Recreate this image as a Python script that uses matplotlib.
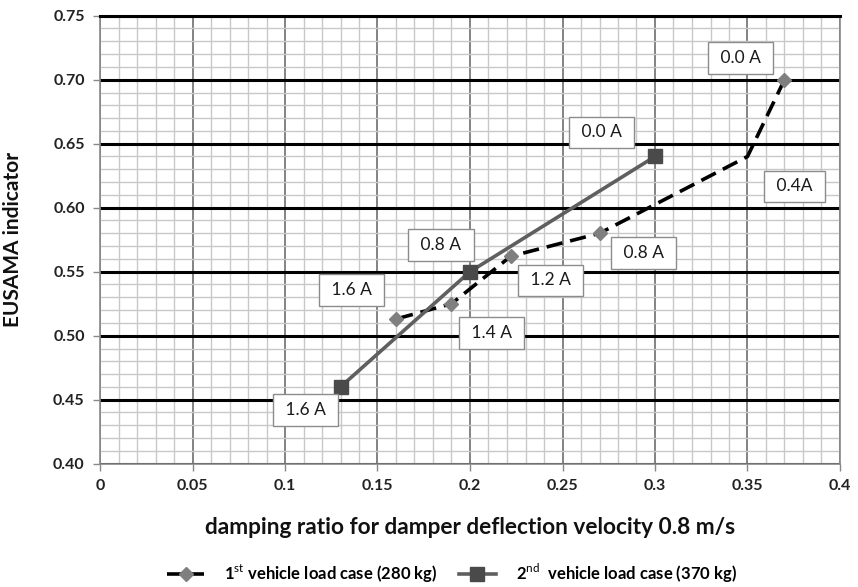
import matplotlib
matplotlib.use("Agg")
import matplotlib.pyplot as plt
from matplotlib.ticker import MultipleLocator

plt.rcParams['font.family'] = ['Lato', 'DejaVu Sans']
plt.rcParams['mathtext.fontset'] = 'custom'
plt.rcParams['mathtext.rm'] = 'Lato'
plt.rcParams['mathtext.bf'] = 'Lato:bold'

# data
s1_x = [0.37, 0.35, 0.27, 0.222, 0.19, 0.16]
s1_y = [0.70, 0.64, 0.58, 0.562, 0.525, 0.513]
s1_labels = ["0.0 A", "0.4A", "0.8 A", "1.2 A", "1.4 A", "1.6 A"]
s2_x = [0.30, 0.20, 0.13]
s2_y = [0.64, 0.55, 0.46]
s2_labels = ["0.0 A", "0.8 A", "1.6 A"]
series_names = [r"1$^{\mathrm{st}}$ vehicle load case (280 kg)",
                r"2$^{\mathrm{nd}}$  vehicle load case (370 kg)"]
x_ticks = [0, 0.05, 0.1, 0.15, 0.2, 0.25, 0.3, 0.35, 0.4]
x_ticklabels = ["0", "0.05", "0.1", "0.15", "0.2", "0.25", "0.3", "0.35", "0.4"]
y_ticks = [0.40, 0.45, 0.50, 0.55, 0.60, 0.65, 0.70, 0.75]
y_ticklabels = ["0.40", "0.45", "0.50", "0.55", "0.60", "0.65", "0.70", "0.75"]

# label offsets (pixels)
s1_off = [(-44, 22), (47, -30), (44, -20), (40, -24), (40, -29), (-44, 29)]
s2_off = [(-53, 24), (-29, 27), (-35, -23)]

fig = plt.figure(figsize=(8.58, 5.87), dpi=100)
ax = fig.add_axes([100/858, 1-463.7/587, 740/858, 448/587])
ax.set_xlim(0, 0.4)
ax.set_ylim(0.40, 0.75)

# grid
ax.xaxis.set_minor_locator(MultipleLocator(0.01))
ax.yaxis.set_minor_locator(MultipleLocator(0.01))
ax.set_xticks(x_ticks)
ax.set_xticklabels(x_ticklabels)
ax.set_yticks(y_ticks)
ax.set_yticklabels(y_ticklabels)
ax.grid(which='minor', color='#c8c8c8', linewidth=1.0, zorder=0)
ax.grid(which='major', axis='x', color='#7a7a7a', linewidth=1.3, zorder=0.5)
ax.grid(which='major', axis='y', color='black', linewidth=2.2, zorder=0.6)
ax.set_axisbelow(True)
ax.tick_params(which='minor', length=0)
ax.tick_params(which='major', length=5, color='#888888', width=1)
ax.tick_params(axis='both', labelsize=11.5, pad=6)
for lab in ax.get_xticklabels() + ax.get_yticklabels():
    lab.set_fontweight('bold')
    lab.set_color('#222222')
for sp in ['left', 'bottom', 'right']:
    ax.spines[sp].set_color('#888888')
    ax.spines[sp].set_linewidth(1.2)
ax.spines['top'].set_color('black')
ax.spines['top'].set_linewidth(2.2)

l1, = ax.plot(s1_x, s1_y, linestyle=(0, (4.5, 2.2)), color='black', linewidth=2.6,
              marker='D', markersize=7, markerfacecolor='#7f7f7f', markeredgecolor='#7f7f7f',
              markevery=[0, 2, 3, 4, 5], zorder=3, label=series_names[0])
l2, = ax.plot(s2_x, s2_y, linestyle='-', color='#5f5f5f', linewidth=2.6,
              marker='s', markersize=10, markerfacecolor='#4a4a4a', markeredgecolor='#4a4a4a',
              zorder=3, label=series_names[1])

bbox = dict(boxstyle='square,pad=0.45', facecolor='white', edgecolor='#8c8c8c', linewidth=1.0)
for x, y, t, o in zip(s1_x + s2_x, s1_y + s2_y, s1_labels + s2_labels, s1_off + s2_off):
    ax.annotate(" " + t + " ", (x, y), xytext=o, textcoords='offset pixels', ha='center',
                va='center', fontsize=12.5, color='#1a1a1a', bbox=bbox, zorder=5)

ax.set_xlabel("damping ratio for damper deflection velocity 0.8 m/s", fontsize=16.3,
              fontweight='bold', labelpad=17, color='#111111')
ax.set_ylabel("EUSAMA indicator", fontsize=15, fontweight='bold', labelpad=22, color='#111111')

fig.legend(handles=[l1, l2], loc='center', bbox_to_anchor=(452/858, 1-573/587), ncol=2,
           frameon=False, handlelength=2.2, columnspacing=1.3,
           handletextpad=1.2, prop={'weight': 'bold', 'size': 12})

fig.savefig("out.png", dpi=100)
